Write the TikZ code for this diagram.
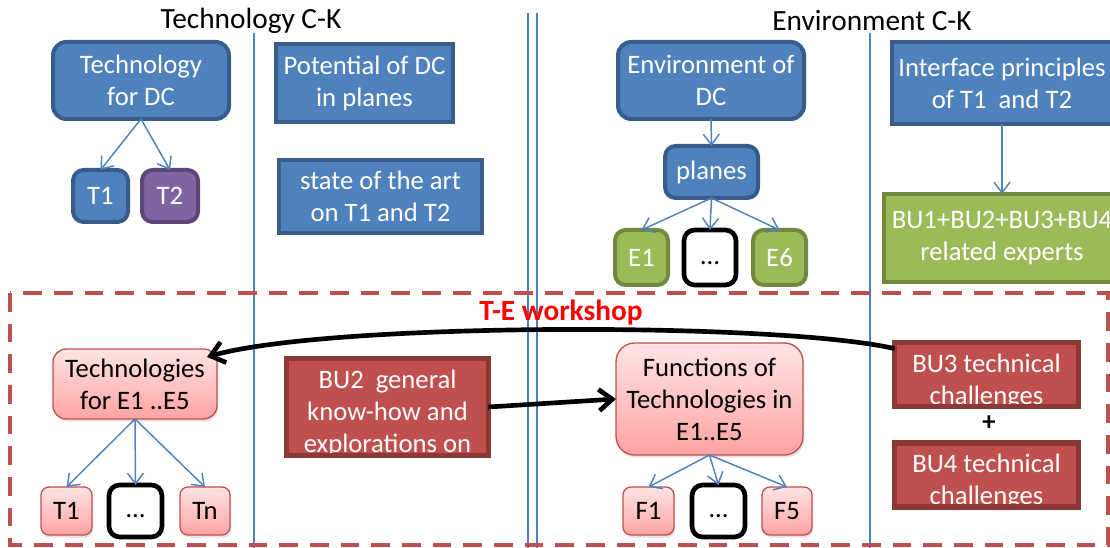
\documentclass[tikz,border=0pt]{standalone}
\usepackage{fontspec}
\setmainfont{Carlito}
\usetikzlibrary{arrows.meta,calc,shadows}
\definecolor{bfill}{HTML}{4F81BD}
\definecolor{bline}{HTML}{385D8A}
\definecolor{pfill}{HTML}{8064A2}
\definecolor{pline}{HTML}{5C4776}
\definecolor{gfill}{HTML}{9BBB59}
\definecolor{gline}{HTML}{71893F}
\definecolor{rfill}{HTML}{C0504D}
\definecolor{rline}{HTML}{8C3836}
\definecolor{pktop}{HTML}{FFE4E4}
\definecolor{pkbot}{HTML}{FFA3A3}
\begin{document}
\begin{tikzpicture}[x=0.75pt,y=-0.75pt,
  txt/.style={font=\fontsize{20}{24}\selectfont, align=center, inner sep=0pt, outer sep=0pt},
  title/.style={font=\fontsize{22}{26}\selectfont, inner sep=0pt},
  basebox/.style={txt, text=white, line width=3pt},
  bluer/.style={basebox, fill=bfill, draw=bline, rounded corners=10pt},
  blues/.style={basebox, fill=bfill, draw=bline},
  purpr/.style={basebox, fill=pfill, draw=pline, rounded corners=8pt},
  greenr/.style={basebox, fill=gfill, draw=gline, rounded corners=8pt},
  greens/.style={basebox, fill=gfill, draw=gline},
  redbox/.style={basebox, fill=rfill, draw=rline, line width=4pt},
  pinkbox/.style={txt, text=black, top color=pktop, bottom color=pkbot, draw=rfill, line width=1pt,
     drop shadow={opacity=0.22, shadow xshift=1pt, shadow yshift=-2pt}},
  dotbox/.style={txt, text=black, fill=white, draw=black, line width=3.5pt, rounded corners=8pt,
     text height=14pt, text depth=4pt},
  barrow/.style={draw=bfill, line width=1.1pt, -{Straight Barb[length=8pt,width=12pt]}},
  karrow/.style={draw=black, line width=3.5pt, -{Straight Barb[length=10pt,width=16pt]}},
  sepline/.style={draw=bfill, line width=1pt},
  wsframe/.style={draw=rfill, line width=3pt, dash pattern=on 14pt off 9pt}
]
\useasboundingbox (0,0) rectangle (1110,548);
\clip (0,0) rectangle (1110,548);

% separators
\draw[sepline] (254,33) -- (254,548);
\draw[sepline] (528,13) -- (528,548);
\draw[sepline] (537,13) -- (537,548);
\draw[sepline] (870,33) -- (870,548);

% titles
\node[title] (ttech) at (251,21) {Technology C-K};
\node[title] (tenv) at (872,21) {Environment C-K};

% Technology C-K
\node[bluer, minimum width=132pt, minimum height=57.75pt] (techdc) at (141,80.5) {Technology\\for DC};
\node[bluer, rounded corners=8pt, minimum width=41.25pt, minimum height=39pt] (t1a) at (100.5,196) {T1};
\node[purpr, minimum width=42pt, minimum height=39pt] (t2a) at (170,196) {T2};
\node[blues, minimum width=132.75pt, minimum height=58.5pt] (pot) at (364.5,83) {Potential of DC\\in planes};
\node[blues, minimum width=152.25pt, minimum height=54.75pt] (sota) at (380.5,196.5) {state of the art\\on T1 and T2};
\draw[barrow] (techdc.south) -- (t1a.north);
\draw[barrow] (techdc.south) -- (t2a.north);

% Environment C-K
\node[bluer, minimum width=139.5pt, minimum height=57.75pt] (envdc) at (711,80.5) {Environment of\\DC};
\node[bluer, rounded corners=8pt, minimum width=69.75pt, minimum height=39pt] (planes) at (711.5,172) {planes};
\node[greenr, minimum width=39.75pt, minimum height=41.25pt] (e1) at (641.5,257.5) {E1};
\node[dotbox, minimum width=39pt, minimum height=41.25pt] (edots) at (710,257.5) {…};
\node[greenr, minimum width=39.75pt, minimum height=41.25pt] (e6) at (779.5,257.5) {E6};
\draw[barrow] (envdc.south) -- (planes.north);
\draw[barrow] (planes.south) -- (e1.north);
\draw[barrow] (planes.south) -- (edots.north);
\draw[barrow] (planes.south) -- (e6.north);

\node[blues, minimum width=165pt, minimum height=61.5pt] (iface) at (1002,83) {Interface principles\\of T1\ \ and T2};
\node[greens, minimum width=177pt, minimum height=66pt] (bu1) at (1002,238) {BU1+BU2+BU3+BU4\\related experts};
\draw[barrow] (iface.south) -- (bu1.north);

% workshop frame
\draw[wsframe] (10,293) rectangle (1108,545);
\node[font=\fontsize{22}{26}\selectfont\bfseries, text=red, inner sep=0pt] (wslabel) at (561,313) {T-E workshop};

% Technologies
\node[pinkbox, rounded corners=10pt, minimum width=123pt, minimum height=52.5pt] (tech) at (135,384) {Technologies\\for E1 ..E5};
\node[pinkbox, rounded corners=6pt, minimum width=38.25pt, minimum height=36pt] (t1b) at (66.5,511) {T1};
\node[dotbox, minimum width=39.75pt, minimum height=39pt] (tdots) at (135.5,511) {…};
\node[pinkbox, rounded corners=6pt, minimum width=37.5pt, minimum height=36pt] (tn) at (205,511) {Tn};
\draw[barrow] (tech.south) -- (t1b.north);
\draw[barrow] (tech.south) -- (tdots.north);
\draw[barrow] (tech.south) -- (tn.north);

% BU2
\node[redbox, minimum width=151.3pt, minimum height=72.5pt,
  path picture={\node[txt, text=white] (bu2t) at ([yshift=-5pt]path picture bounding box.center) {BU2\ \ general\\know-how and\\explorations on};}] (bu2) at (387.5,407) {};

% Functions
\node[pinkbox, rounded corners=14pt, minimum width=140.25pt, minimum height=84pt] (func) at (709.5,399) {Functions of\\Technologies in\\E1..E5};
\node[pinkbox, rounded corners=6pt, minimum width=38.25pt, minimum height=36pt] (f1) at (648.5,511) {F1};
\node[dotbox, minimum width=39.75pt, minimum height=39pt] (fdots) at (718.5,511) {…};
\node[pinkbox, rounded corners=6pt, minimum width=37.5pt, minimum height=36pt] (f5) at (787,511) {F5};
\draw[barrow] (func.south) -- (f1.north);
\draw[barrow] (func.south) -- (fdots.north);
\draw[barrow] (func.south) -- (f5.north);

% BU3 / BU4
\node[redbox, minimum width=137.8pt, minimum height=47.8pt,
  path picture={\node[txt, text=white] (bu3t) at ([yshift=-5pt]path picture bounding box.center) {BU3 technical\\challenges};}] (bu3) at (986.5,374.5) {};
\node[font=\fontsize{20}{24}\selectfont\bfseries, inner sep=0pt] (plus) at (989,423) {+};
\node[redbox, minimum width=137.8pt, minimum height=47.8pt,
  path picture={\node[txt, text=white] (bu4t) at ([yshift=-5pt]path picture bounding box.center) {BU4 technical\\challenges};}] (bu4) at (986.5,475) {};

% black arrows
\coordinate (cs) at ($(bu3.north west)+(0,6)$);
\coordinate (ce) at ($(tech.north east)+(-10,8)$);
\draw[karrow] (cs) .. controls (780,322) and (330,322) .. (ce);
\draw[karrow] (bu2.east) -- (func.west);
\end{tikzpicture}
\end{document}
